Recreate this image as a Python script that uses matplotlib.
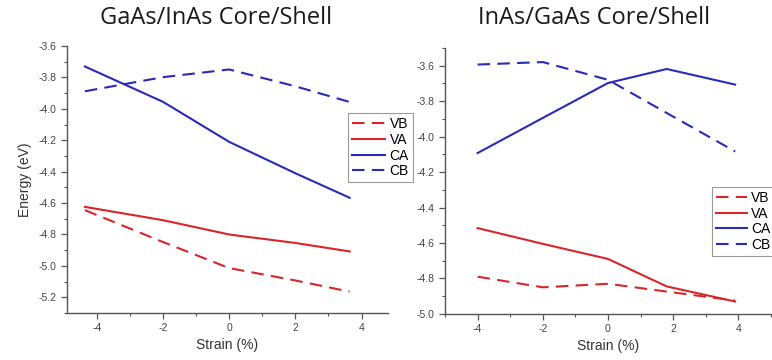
import matplotlib
matplotlib.use("Agg")
import matplotlib.pyplot as plt
from matplotlib.ticker import MultipleLocator

# GaAs core / InAs shell band edges vs strain
left_strain = [-4.36, -2.0, 0.0, 2.0, 3.64]
left_vb = [-4.645, -4.848, -5.014, -5.093, -5.164]
left_va = [-4.624, -4.709, -4.800, -4.854, -4.908]
left_ca = [-3.730, -3.955, -4.210, -4.410, -4.566]
left_cb = [-3.888, -3.798, -3.749, -3.856, -3.956]

# InAs core / GaAs shell band edges vs strain
right_strain = [-4.0, -2.0, 0.0, 1.8, 3.9]
right_vb = [-4.790, -4.850, -4.830, -4.874, -4.925]
right_va = [-4.516, -4.605, -4.690, -4.845, -4.930]
right_ca = [-4.093, -3.895, -3.698, -3.619, -3.707]
right_cb = [-3.594, -3.580, -3.680, -3.867, -4.084]

labels = ["VB", "VA", "CA", "CB"]
titles = ["GaAs/InAs Core/Shell", "InAs/GaAs Core/Shell"]

RED = "#d8262b"
BLUE = "#2a2ab8"
DASH = (0, (6, 3.5))
styles = [(RED, DASH), (RED, "-"), (BLUE, "-"), (BLUE, DASH)]

plt.rcParams["font.family"] = ["Liberation Sans", "DejaVu Sans"]
plt.rcParams["axes.unicode_minus"] = False

fig = plt.figure(figsize=(7.72, 3.6), dpi=100)
ax1 = fig.add_axes([0.0868, 0.1306, 0.4158, 0.7414])
ax2 = fig.add_axes([0.5764, 0.128, 0.4223, 0.739])


def draw(ax, x, series, xlim, ylim, ymajor):
    for (c, ls), y, lab in zip(styles, series, labels):
        ax.plot(x, y, color=c, linestyle=ls, lw=1.5, label=lab)
    ax.set_xlim(*xlim)
    ax.set_ylim(*ylim)
    ax.xaxis.set_major_locator(MultipleLocator(2))
    ax.xaxis.set_minor_locator(MultipleLocator(1))
    ax.yaxis.set_major_locator(MultipleLocator(ymajor))
    ax.yaxis.set_minor_locator(MultipleLocator(ymajor / 2))
    for s in ("top", "right"):
        ax.spines[s].set_visible(False)
    for s in ("left", "bottom"):
        ax.spines[s].set_color("#555555")
        ax.spines[s].set_linewidth(1.0)
    ax.tick_params(which="major", length=4, width=0.9, color="#555555",
                   labelsize=7.5, labelcolor="#444444", direction="out")
    ax.tick_params(which="minor", length=2, width=0.8, color="#555555",
                   direction="out")
    ax.set_xlabel("Strain (%)", fontsize=10, color="#333333", labelpad=3)


draw(ax1, left_strain, [left_vb, left_va, left_ca, left_cb],
     (-4.9, 4.8), (-5.3, -3.6), 0.2)
draw(ax2, right_strain, [right_vb, right_va, right_ca, right_cb],
     (-5.0, 5.0), (-5.0, -3.5), 0.2)

ax1.set_ylabel("Energy (eV)", fontsize=10, color="#333333", labelpad=5)

fig.text(216 / 772, 1 - 24 / 360, titles[0], ha="center", va="baseline",
         fontsize=17, family=["Open Sans", "DejaVu Sans"], color="#1a1a1a")
fig.text(594 / 772, 1 - 24 / 360, titles[1], ha="center", va="baseline",
         fontsize=17, family=["Open Sans", "DejaVu Sans"], color="#1a1a1a")

leg_kw = dict(frameon=True, fancybox=False, edgecolor="#999999",
              framealpha=1, handletextpad=0.3, fontsize=10,
              borderpad=0.3, labelspacing=0.12, borderaxespad=0)
l1 = ax1.legend(loc="upper left", bbox_to_anchor=(0.875, 0.749),
                handlelength=2.4, **leg_kw)
l2 = ax2.legend(loc="upper left", bbox_to_anchor=(0.82, 0.478),
                handlelength=2.2, **leg_kw)
for l in (l1, l2):
    l.get_frame().set_linewidth(0.8)
    l.set_clip_on(False)

fig.savefig("out.png", dpi=100)
